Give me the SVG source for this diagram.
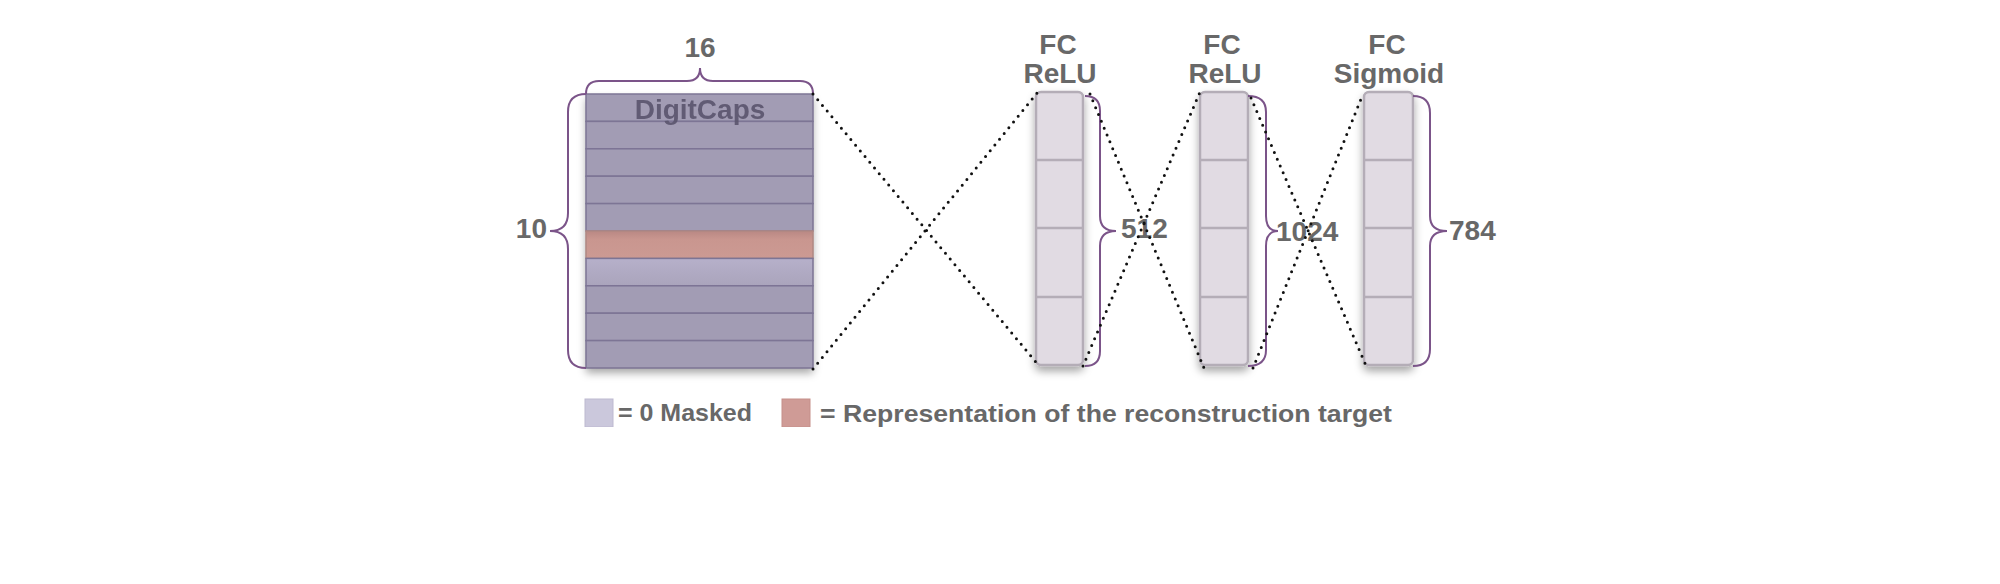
<svg xmlns="http://www.w3.org/2000/svg" width="2000" height="584" viewBox="0 0 2000 584">
<style>
.lbl{font-family:"Liberation Sans",Arial,sans-serif;font-weight:bold;fill:#686868;font-size:28px}
.brace{fill:none;stroke:#7b5489;stroke-width:2}
.row{fill:#a29cb4;stroke:#7d7595;stroke-width:1.5}
.cell{fill:#e1dbe3;stroke:#b4adb7;stroke-width:2.5}
.dot{fill:none;stroke:#111;stroke-width:3;stroke-linecap:round;stroke-dasharray:0 7.4}
.leg{font-family:"Liberation Sans",Arial,sans-serif;font-weight:bold;fill:#686868;font-size:24px}
</style>
<defs>
<filter id="sh" x="-30%" y="-20%" width="160%" height="140%">
<feDropShadow dx="0" dy="5" stdDeviation="4" flood-color="#000" flood-opacity="0.35"/>
</filter>
<linearGradient id="redg" x1="0" y1="0" x2="0" y2="1">
<stop offset="0" stop-color="#b98884"/><stop offset="0.3" stop-color="#c9968f"/><stop offset="1" stop-color="#cc9a93"/>
</linearGradient>
<linearGradient id="lightg" x1="0" y1="0" x2="0" y2="1">
<stop offset="0" stop-color="#b6b0ca"/><stop offset="1" stop-color="#aaa4bc"/>
</linearGradient>
<clipPath id="legclip"><rect x="0" y="380" width="2000" height="47"/></clipPath>
</defs>

<g id="digitcaps">
<g filter="url(#sh)">
<rect x="586" y="94" width="227" height="274" fill="#a29cb4"/>
</g>
<rect class="row" x="586" y="94" width="227" height="27.4"/>
<rect class="row" x="586" y="121.4" width="227" height="27.4"/>
<rect class="row" x="586" y="148.8" width="227" height="27.4"/>
<rect class="row" x="586" y="176.2" width="227" height="27.4"/>
<rect class="row" x="586" y="203.6" width="227" height="27.4"/>
<rect x="586" y="231" width="227" height="27.4" fill="url(#redg)" stroke="#b08883" stroke-width="1.5"/>
<rect class="row" x="586" y="258.4" width="227" height="27.4" style="fill:url(#lightg)"/>
<rect class="row" x="586" y="285.8" width="227" height="27.4"/>
<rect class="row" x="586" y="313.2" width="227" height="27.4"/>
<rect class="row" x="586" y="340.6" width="227" height="27.4"/>
<text x="700" y="119" text-anchor="middle" class="lbl" style="fill:#5b556e;opacity:0.9">DigitCaps</text>
<path class="brace" d="M586,94 Q586,81 599,81 L687,81 Q700,81 700,68 Q700,81 713,81 L800,81 Q813,81 813,94"/>
<text x="700" y="57" text-anchor="middle" class="lbl">16</text>
<path class="brace" d="M586,94 Q568,94 568,112 L568,213 Q568,231 550,231 Q568,231 568,249 L568,350 Q568,368 586,368"/>
<text x="547" y="238" text-anchor="end" class="lbl">10</text>
</g>

<g id="fc1">
<rect x="1036" y="92" width="47" height="273" rx="5" class="cell" filter="url(#sh)"/>
<line x1="1036" y1="160" x2="1083" y2="160" stroke="#b4adb7" stroke-width="2.5"/>
<line x1="1036" y1="228" x2="1083" y2="228" stroke="#b4adb7" stroke-width="2.5"/>
<line x1="1036" y1="297" x2="1083" y2="297" stroke="#b4adb7" stroke-width="2.5"/>
<text x="1058" y="54" text-anchor="middle" class="lbl">FC</text>
<text x="1060" y="83" text-anchor="middle" class="lbl">ReLU</text>
<path class="brace" d="M1085,96 Q1100,96 1100,111 L1100,216 Q1100,231 1116,231 Q1100,231 1100,246 L1100,351 Q1100,366 1085,366"/>
<text x="1121" y="238" class="lbl">512</text>
</g>

<g id="fc2">
<rect x="1200" y="92" width="48" height="273" rx="5" class="cell" filter="url(#sh)"/>
<line x1="1200" y1="160" x2="1248" y2="160" stroke="#b4adb7" stroke-width="2.5"/>
<line x1="1200" y1="228" x2="1248" y2="228" stroke="#b4adb7" stroke-width="2.5"/>
<line x1="1200" y1="297" x2="1248" y2="297" stroke="#b4adb7" stroke-width="2.5"/>
<text x="1222" y="54" text-anchor="middle" class="lbl">FC</text>
<text x="1225" y="83" text-anchor="middle" class="lbl">ReLU</text>
<path class="brace" d="M1248,96 Q1266,96 1266,112 L1266,216 Q1266,231 1278,231 Q1266,231 1266,246 L1266,350 Q1266,366 1248,366"/>
<text x="1276" y="241" class="lbl">1024</text>
</g>

<g id="fc3">
<rect x="1364" y="92" width="49" height="273" rx="5" class="cell" filter="url(#sh)"/>
<line x1="1364" y1="160" x2="1413" y2="160" stroke="#b4adb7" stroke-width="2.5"/>
<line x1="1364" y1="228" x2="1413" y2="228" stroke="#b4adb7" stroke-width="2.5"/>
<line x1="1364" y1="297" x2="1413" y2="297" stroke="#b4adb7" stroke-width="2.5"/>
<text x="1387" y="54" text-anchor="middle" class="lbl">FC</text>
<text x="1389" y="83" text-anchor="middle" class="lbl">Sigmoid</text>
<path class="brace" d="M1413,96 Q1430,96 1430,113 L1430,216 Q1430,231 1447,231 Q1430,231 1430,246 L1430,349 Q1430,366 1413,366"/>
<text x="1449" y="240" class="lbl">784</text>
</g>

<g id="connectors">
<line class="dot" x1="813" y1="94" x2="1040" y2="367"/>
<line class="dot" x1="813" y1="369" x2="1037" y2="93"/>
<line class="dot" x1="1090" y1="94" x2="1204" y2="368"/>
<line class="dot" x1="1083" y1="366" x2="1200" y2="92"/>
<line class="dot" x1="1251" y1="98" x2="1367" y2="368"/>
<line class="dot" x1="1253" y1="368" x2="1363" y2="94"/>
</g>

<g id="legend" clip-path="url(#legclip)">
<rect x="585" y="399" width="28" height="28" fill="#cbc8dc" stroke="#bdb9d0" stroke-width="1"/>
<text x="618" y="421" class="leg" textLength="134" lengthAdjust="spacingAndGlyphs">= 0 Masked</text>
<rect x="782" y="399" width="28" height="28" fill="#cf9b96" stroke="#c58f8a" stroke-width="1"/>
<text x="820" y="422" class="leg" textLength="572" lengthAdjust="spacingAndGlyphs">= Representation of the reconstruction target</text>
</g>
</svg>
